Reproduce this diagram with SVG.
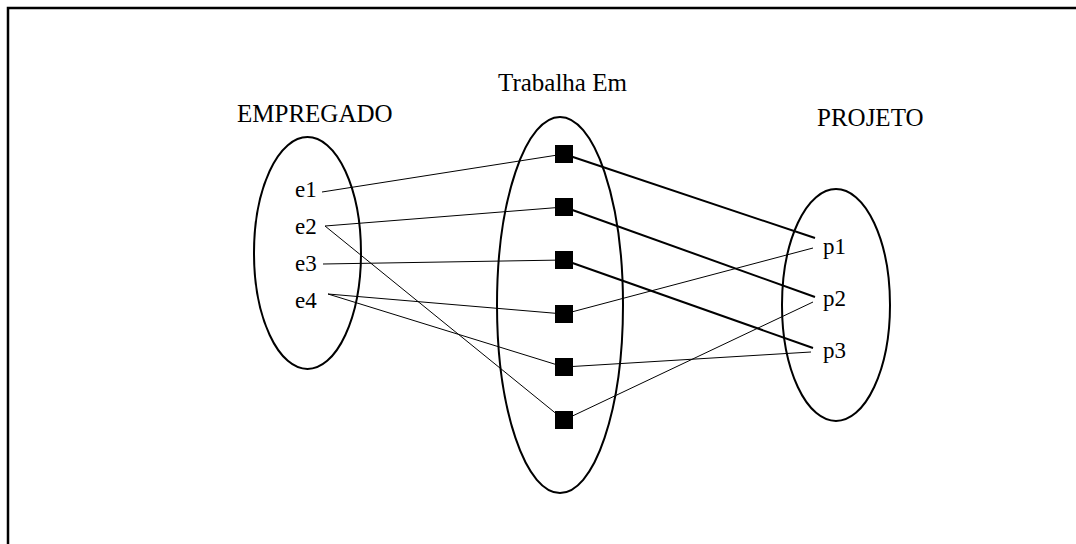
<svg xmlns="http://www.w3.org/2000/svg" width="1076" height="544" viewBox="0 0 1076 544">
<style>
text { font-family: "Liberation Serif", "Times New Roman", serif; fill: #000; }
.title { font-size: 25px; }
.lbl { font-size: 23px; }
.set { fill: none; stroke: #000; stroke-width: 2; }
.thin { stroke: #000; stroke-width: 1; fill: none; }
.thick { stroke: #000; stroke-width: 2; fill: none; }
.rel { fill: #000; }
</style>
<rect width="1076" height="544" fill="#fff"/>
<path d="M8 544 V8 H1076" fill="none" stroke="#000" stroke-width="2.5"/>
<g id="connectors">
  <line class="thin" x1="322" y1="192" x2="564" y2="154"/>
  <line class="thin" x1="325" y1="226" x2="564" y2="207"/>
  <line class="thin" x1="325" y1="226" x2="564" y2="420"/>
  <line class="thin" x1="323" y1="264" x2="564" y2="260"/>
  <line class="thin" x1="328" y1="294" x2="564" y2="314"/>
  <line class="thin" x1="328" y1="294" x2="564" y2="367"/>
  <line class="thin" x1="564" y1="314" x2="813" y2="248"/>
  <line class="thin" x1="564" y1="367" x2="811" y2="352"/>
  <line class="thin" x1="564" y1="420" x2="813" y2="302"/>
  <line class="thick" x1="564" y1="154" x2="815" y2="238"/>
  <line class="thick" x1="564" y1="207" x2="815" y2="297"/>
  <line class="thick" x1="564" y1="260" x2="813" y2="348"/>
</g>
<g id="empregado">
  <ellipse class="set" cx="307.5" cy="253" rx="53.5" ry="116"/>
  <text class="title" x="237" y="122">EMPREGADO</text>
  <text class="lbl" x="295" y="197">e1</text>
  <text class="lbl" x="295" y="234">e2</text>
  <text class="lbl" x="295" y="271">e3</text>
  <text class="lbl" x="295" y="308">e4</text>
</g>
<g id="trabalha-em">
  <ellipse class="set" cx="560" cy="305" rx="63" ry="188"/>
  <text class="title" x="498" y="91">Trabalha Em</text>
  <rect class="rel" x="555" y="145" width="18" height="18"/>
  <rect class="rel" x="555" y="198" width="18" height="18"/>
  <rect class="rel" x="555" y="251" width="18" height="18"/>
  <rect class="rel" x="555" y="305" width="18" height="18"/>
  <rect class="rel" x="555" y="358" width="18" height="18"/>
  <rect class="rel" x="555" y="411" width="18" height="18"/>
</g>
<g id="projeto">
  <ellipse class="set" cx="836" cy="305" rx="54" ry="116"/>
  <text class="title" x="817" y="126">PROJETO</text>
  <text class="lbl" x="823" y="254">p1</text>
  <text class="lbl" x="823" y="306">p2</text>
  <text class="lbl" x="823" y="358">p3</text>
</g>
</svg>
